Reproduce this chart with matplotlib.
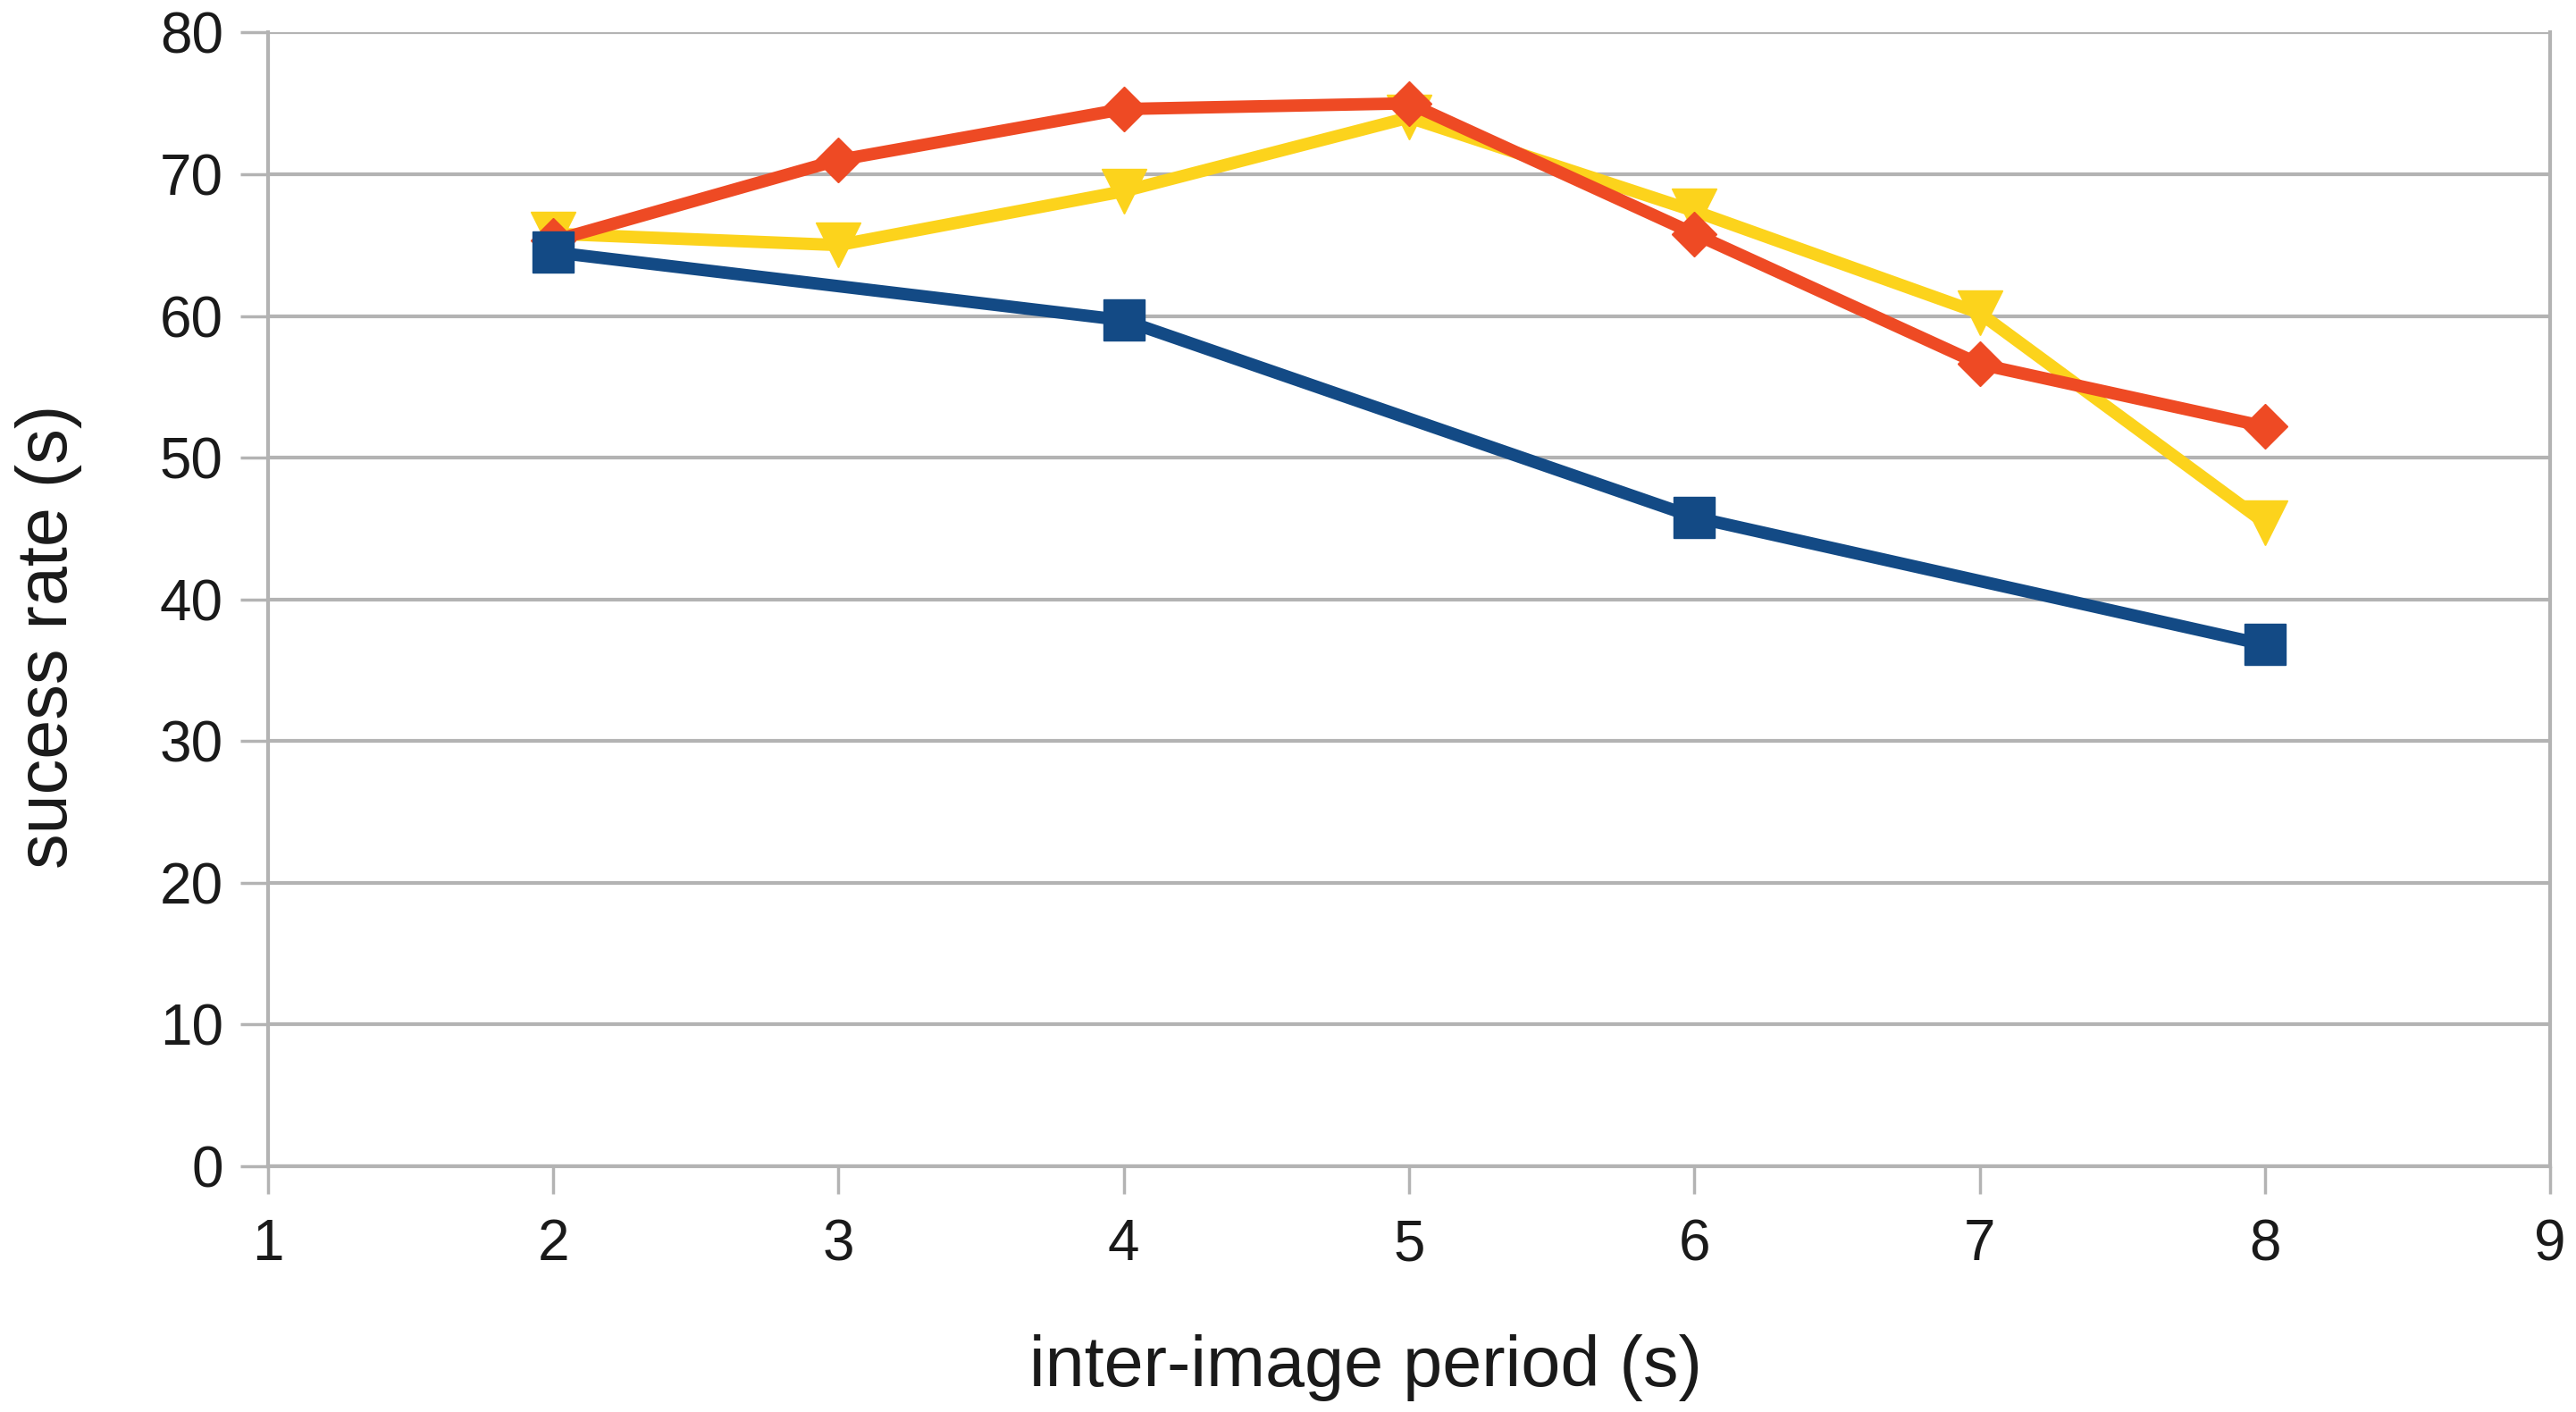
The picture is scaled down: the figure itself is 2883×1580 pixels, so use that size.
import matplotlib.pyplot as plt

# inter-image period (s)
periods = [2, 3, 4, 5, 6, 7, 8]
blue_x = [2, 4, 6, 8]

# success rate values
blue_rate = [64.5, 59.7, 45.8, 36.8]
red_rate = [65.3, 71.0, 74.6, 75.0, 65.8, 56.6, 52.2]
yellow_rate = [65.8, 65.0, 68.8, 74.0, 67.4, 60.2, 45.4]

grid_col = '#b3b3b3'
plt.rcParams['font.family'] = ['Liberation Sans', 'DejaVu Sans']

fig = plt.figure(figsize=(28.83, 15.8), dpi=100)
ax = fig.add_axes([0.104, 0.174, 0.886, 0.803])

# draw order: yellow at the bottom, then red, then blue on top
ax.plot(periods, yellow_rate, color='#fcd31c', lw=10, marker='v', ms=36,
        mec='#fcd31c', zorder=3)
ax.plot(periods, red_rate, color='#ee4a24', lw=10, marker='D', ms=25,
        mec='#ee4a24', zorder=4)
ax.plot(blue_x, blue_rate, color='#134a85', lw=10, marker='s', ms=33,
        mec='#134a85', zorder=5)

ax.set_xlim(1, 9)
ax.set_ylim(0, 80)
ax.set_xticks(range(1, 10))
ax.set_yticks(range(0, 81, 10))

ax.yaxis.grid(True, color=grid_col, lw=3)
ax.set_axisbelow(True)
for side in ['left', 'right', 'bottom']:
    ax.spines[side].set_color(grid_col)
    ax.spines[side].set_linewidth(3)
ax.spines['top'].set_visible(False)

ax.tick_params(axis='both', colors=grid_col, width=2.5, length=22,
               labelsize=46, labelcolor='#1a1a1a')
ax.tick_params(axis='x', pad=20)
ax.tick_params(axis='y', pad=14)

ax.set_xlabel('inter-image period (s)', fontsize=57, color='#1a1a1a')
ax.set_ylabel('sucess rate (s)', fontsize=57, color='#1a1a1a')
# the labels sit slightly off-centre in the original
ax.xaxis.set_label_coords(0.481, -0.148)
ax.yaxis.label.set_va('center')
ax.yaxis.set_label_coords(-0.096, 0.467)

fig.savefig('out.png', dpi=100, facecolor='white')
